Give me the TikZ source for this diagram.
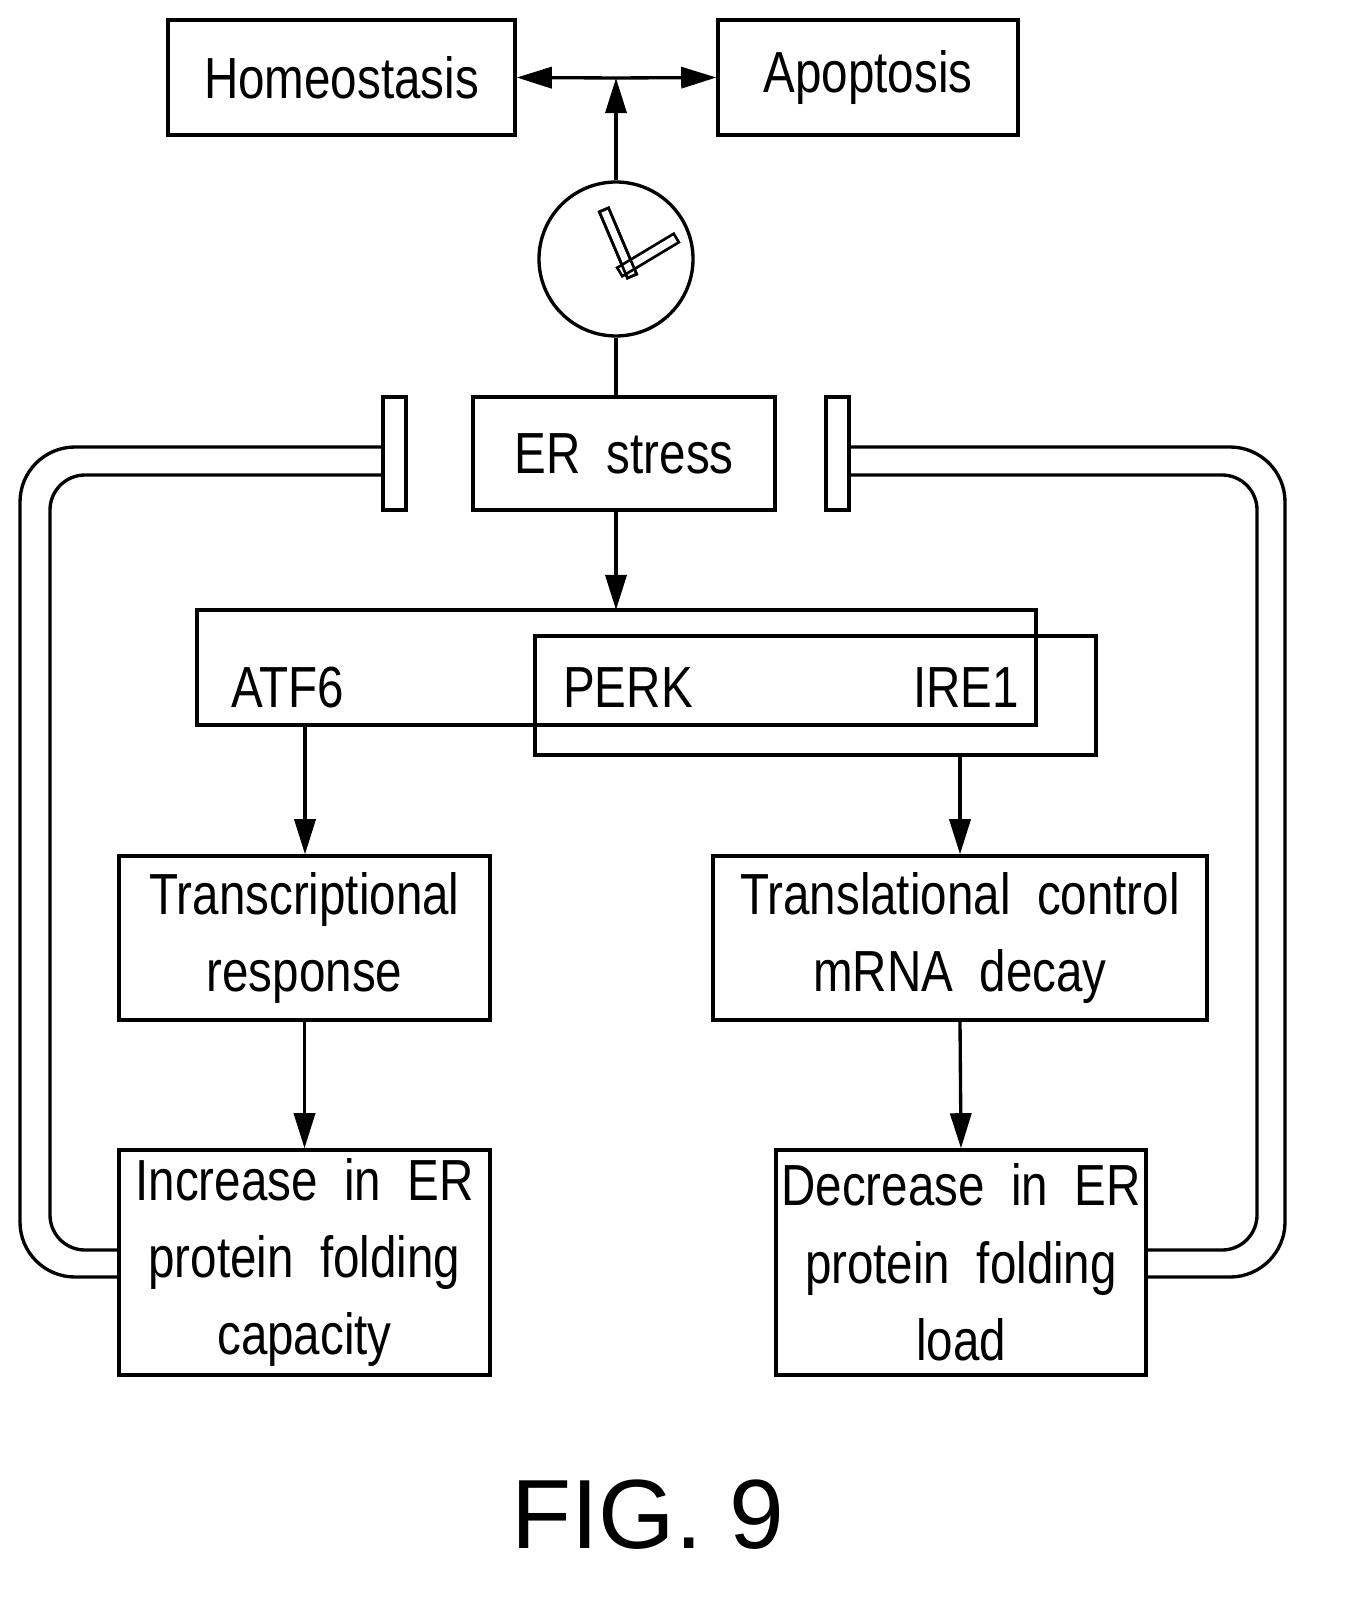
\documentclass[tikz,border=0pt]{standalone}
\usepackage{fontspec}
\setmainfont{Liberation Sans}[FakeStretch=0.82]
\newfontfamily\figfont{Liberation Sans}
\usetikzlibrary{arrows.meta}
\begin{document}
\begin{tikzpicture}[x=0.02cm,y=-0.02cm,line width=1.9pt,
  box/.style={draw,rectangle,inner sep=0pt,align=center,font=\fontsize{33}{44}\selectfont},
  arr/.style={-{Triangle[length=20pt,width=12pt]}},
  lbl/.style={font=\fontsize{33}{44}\selectfont,inner sep=0pt},
  hand/.style={draw,fill=white,minimum height=10*0.02cm,inner sep=0pt,line width=1.5pt}]
\node[box,minimum width=347*0.02cm,minimum height=115*0.02cm] (hom) at (341.5,77.5) {Homeostasis};
\node[box,minimum width=300*0.02cm,minimum height=115*0.02cm] (apo) at (868,77.5) {Apoptosis};
\coordinate (j) at (616,78);
\draw[arr] (j) -- (hom.east);
\draw[arr] (j) -- (apo.west);
\node[draw,circle,minimum size=154*0.02cm,inner sep=0pt] (clk) at (616,259) {};
\draw[arr] (clk.north) -- (j);
\node[hand,minimum width=72*0.02cm,rotate=-67] (h1) at (618,243) {};
\node[hand,minimum width=66*0.02cm,rotate=31] (h2) at (648,255) {};
\node[hand,minimum width=72*0.02cm,rotate=-67,fill=none] (h1b) at (618,243) {};
\node[box,minimum width=302*0.02cm,minimum height=113*0.02cm] (er) at (624,453.5) {ER\ \ stress};
\draw (clk.south) -- (616,397);
\node[draw,minimum width=839*0.02cm,minimum height=115*0.02cm,inner sep=0pt] (b1) at (616.5,667.5) {};
\node[draw,minimum width=561*0.02cm,minimum height=119*0.02cm,inner sep=0pt] (b2) at (815.5,695.5) {};
\draw[arr] (616,510) -- (616,610);
\node[lbl] (atf) at (288,688) {ATF6};
\node[lbl] (perk) at (628,688) {PERK};
\node[lbl] (ire) at (966,688) {IRE1};
\node[box,minimum width=371*0.02cm,minimum height=164*0.02cm] (tr) at (304.5,938) {Transcriptional\\response};
\node[box,minimum width=494*0.02cm,minimum height=164*0.02cm] (tl) at (960,938) {Translational\ \ control\\mRNA\ \ decay};
\draw[arr] (305,725) -- (tr.north -| 305,0);
\draw[arr] (960,755) -- (tl.north);
\node[box,minimum width=371*0.02cm,minimum height=225*0.02cm] (inc) at (304.5,1262.5) {Increase\ \ in\ \ ER\\protein\ \ folding\\capacity};
\node[box,minimum width=370*0.02cm,minimum height=225*0.02cm] (dec) at (961,1262.5) {Decrease\ \ in\ \ ER\\protein\ \ folding\\load};
\draw[arr] (tr.south) -- (inc.north);
\draw[arr] (tl.south) -- (dec.north);
\node[draw,minimum width=23*0.02cm,minimum height=113*0.02cm,inner sep=0pt] (barL) at (394.5,453.5) {};
\node[draw,minimum width=23*0.02cm,minimum height=113*0.02cm,inner sep=0pt] (barR) at (837.5,453.5) {};
\draw[rounded corners=55*0.02cm] (inc.west |- 0,1277) -- (20,1277) -- (20,447) -- (barL.west |- 0,447);
\draw[rounded corners=35*0.02cm] (inc.west |- 0,1250) -- (50,1250) -- (50,475) -- (barL.west |- 0,475);
\draw[rounded corners=55*0.02cm] (barR.east |- 0,447) -- (1285,447) -- (1285,1277) -- (dec.east |- 0,1277);
\draw[rounded corners=35*0.02cm] (barR.east |- 0,475) -- (1257,475) -- (1257,1250) -- (dec.east |- 0,1250);
\node[inner sep=0pt,font=\figfont\fontsize{56}{60}\selectfont] (fig) at (648,1515) {FIG. 9};
\pgfresetboundingbox
\path[use as bounding box] (0,0) rectangle (1351,1621);
\end{tikzpicture}
\end{document}
